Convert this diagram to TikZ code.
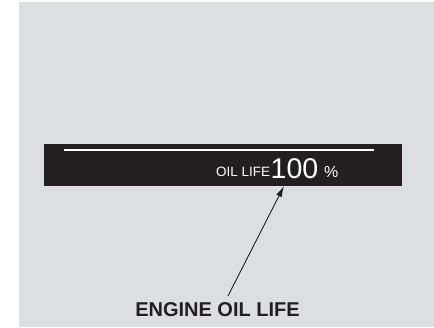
\documentclass[tikz,border=0pt]{standalone}
\usepackage{fontspec}
\setmainfont{Liberation Sans}
\usetikzlibrary{arrows.meta,positioning}
\definecolor{panelgray}{RGB}{221,222,224}
\definecolor{lcdblack}{RGB}{35,31,32}
\tikzset{
  lcd/.style={rectangle, fill=lcdblack, inner sep=0pt},
  lcdtxt/.style={text=white, inner sep=0pt, anchor=base west},
  callout/.style={font=\fontsize{20}{20}\selectfont\bfseries, text=lcdblack, inner sep=0pt, anchor=base},
  pointer/.style={-{Latex[length=11pt, width=6pt]}, line width=0.9pt, lcdblack},
}
\begin{document}
\begin{tikzpicture}[x=1pt, y=-1pt]
  \useasboundingbox (0,0) rectangle (434,327);
  \fill[panelgray] (19,2) rectangle (434,327);
  % display strip
  \node[lcd, minimum width=358pt, minimum height=42pt] (panel) at (223,165) {};
  \draw[white, line width=2.4pt] (64,150) -- (374,150);
  \node[lcdtxt, font=\fontsize{13.5}{13.5}\selectfont] (oil) at (216,176) {OIL LIFE};
  \node[lcdtxt, font=\fontsize{28.5}{28.5}\selectfont] (pct) at (270.5,178) {100};
  \node[lcdtxt, font=\fontsize{16}{16}\selectfont] (sign) at (324,177) {\%};
  % callout
  \node[callout] (label) at (217.5,316.5) {ENGINE OIL LIFE};
  \coordinate (tail) at (228,296);
  \coordinate (tip) at (284,186);
  \draw[pointer] (tail) -- (tip);
\end{tikzpicture}
\end{document}
